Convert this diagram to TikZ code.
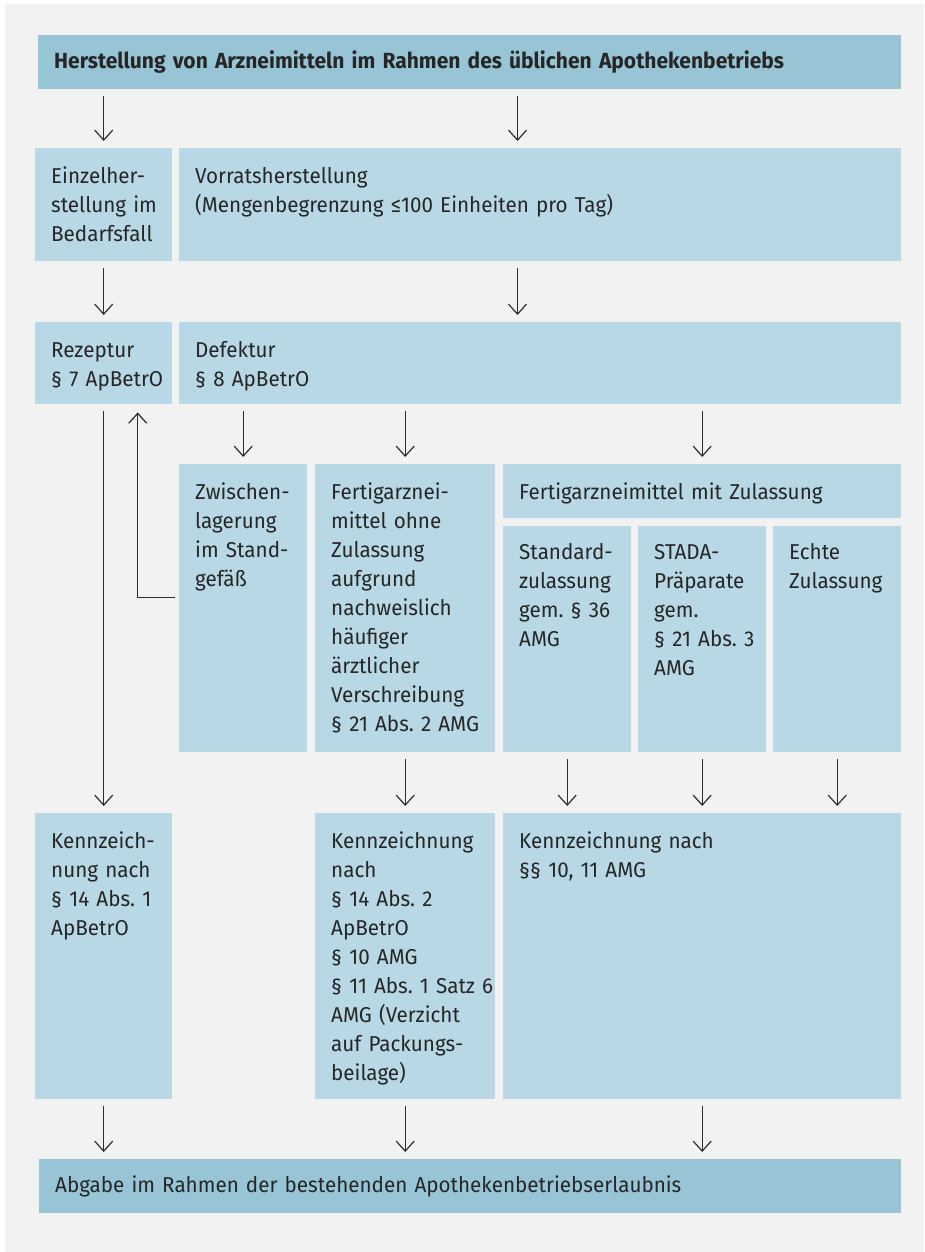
\documentclass[tikz,border=0pt]{standalone}
\usepackage{fontspec}
\setmainfont{Fira Sans}[FakeStretch=0.96]
\usetikzlibrary{arrows.meta}

\definecolor{bggray}{HTML}{F2F2F2}
\definecolor{boxblue}{HTML}{B7D8E4}
\definecolor{headblue}{HTML}{97C5D6}
\definecolor{txtgray}{HTML}{262626}
\definecolor{linegray}{HTML}{2E2E2E}

\hyphenpenalty=10000
\exhyphenpenalty=10000

\begin{document}
\begin{tikzpicture}[x=1pt, y=-1pt,
	box/.style={fill=boxblue, anchor=north west, inner xsep=16pt, inner ysep=0pt,
		align=left, text height=35pt, text=txtgray,
		font=\fontsize{21.5}{29}\selectfont},
	headbox/.style={box, fill=headblue, text height=33pt},
	arr/.style={draw=linegray, line width=1.2pt,
		-{Straight Barb[length=10pt,width=18pt]},
		shorten <=7pt, shorten >=7pt}]
	% canvas
	\useasboundingbox (0,0) rectangle (924,1252);
	\fill[bggray] (5,4) rectangle (924,1252);
	
	%---------------- ROW 1: HEADING ----------------
	\node[headbox, text width=831pt, text depth=21pt] (top) at (38,35)
		{\fontsize{21.9}{29}\selectfont\bfseries Herstellung von Arzneimitteln im Rahmen des üblichen Apothekenbetriebs};
	
	%---------------- ROW 2 / 3 ----------------
	\node[box, text width=105pt, text depth=78pt] (einzel) at (35,148)
		{Einzelher-\\stellung~im\\Bedarfsfall};
	\node[box, text width=690pt, text depth=78pt] (vorrat) at (179,148)
		{Vorratsherstellung\\(Mengenbegrenzung ≤100 Einheiten pro Tag)};
	\node[box, text width=105pt, text depth=47pt] (rezeptur) at (35,322)
		{Rezeptur\\§~7~ApBetrO};
	\node[box, text width=690pt, text depth=47pt] (defektur) at (179,322)
		{Defektur\\§~8 ApBetrO};
	
	%---------------- ROW 4: DEFEKTUR BRANCHES ----------------
	\node[box, text width=96pt, text depth=253pt] (zwischen) at (179,464)
		{Zwischen-\\lagerung\\im~Stand-\\gefäß};
	\node[box, text width=148pt, text depth=253pt] (ohne) at (315,464)
		{Fertigarznei-\\mittel~ohne\\Zulassung\\aufgrund\\nachweislich\\häufiger\\ärztlicher\\Verschreibung\\§~21~Abs.~2~AMG};
	\node[box, text width=366pt, text depth=19pt] (mit) at (503,464)
		{Fertigarzneimittel mit Zulassung};
	\node[box, text width=96pt, text height=33pt, text depth=193pt] (standard) at (503,526)
		{Standard-\\zulassung\\gem.~§~36\\AMG};
	\node[box, text width=96pt, text height=33pt, text depth=193pt] (stada) at (638,526)
		{STADA-\\Präparate\\gem.\\§~21~Abs.~3\\AMG};
	\node[box, text width=96pt, text height=33pt, text depth=193pt] (echte) at (773,526)
		{Echte\\Zulassung};
	
	%---------------- ROW 5: KENNZEICHNUNG ----------------
	\node[box, text width=105pt, text depth=251pt] (kenn1) at (35,813)
		{Kennzeich-\\nung~nach\\§~14~Abs.~1\\ApBetrO};
	\node[box, text width=148pt, text depth=251pt] (kenn2) at (315,813)
		{Kennzeichnung\\nach\\§~14~Abs.~2\\ApBetrO\\§~10~AMG\\§~11~Abs.~1~Satz~6\\AMG~(Verzicht\\auf~Packungs-\\beilage)};
	\node[box, text width=366pt, text depth=251pt] (kenn3) at (503,813)
		{Kennzeichnung nach\\§§~10, 11 AMG};
	
	%---------------- ROW 6: ABGABE ----------------
	\node[headbox, text width=830pt, text depth=21pt] (abgabe) at (39,1159)
		{Abgabe im Rahmen der bestehenden Apothekenbetriebserlaubnis};
	
	% arrows
	\coordinate (vcol) at (517.5,0);
	\draw[arr] (top.south -| einzel) -- (einzel);
	\draw[arr] (top.south -| vcol) -- (vorrat.north -| vcol);
	\draw[arr] (einzel) -- (rezeptur);
	\draw[arr] (vorrat.south -| vcol) -- (defektur.north -| vcol);
	\foreach \N in {zwischen,ohne,mit} {
		\draw[arr] (defektur.south -| \N) -- (\N);
	}
	\draw[arr] (rezeptur) -- (kenn1);
	\draw[arr, shorten <=4pt, shorten >=8pt] ([yshift=11pt]zwischen.west) -| ([xshift=34pt]rezeptur.south);
	\draw[arr] (ohne) -- (kenn2);
	\foreach \N in {standard,stada,echte} {
		\draw[arr] (\N) -- (\N |- kenn3.north);
	}
	\foreach \N in {kenn1,kenn2,kenn3} {
		\draw[arr] (\N) -- (\N |- abgabe.north);
	}
\end{tikzpicture}
\end{document}
